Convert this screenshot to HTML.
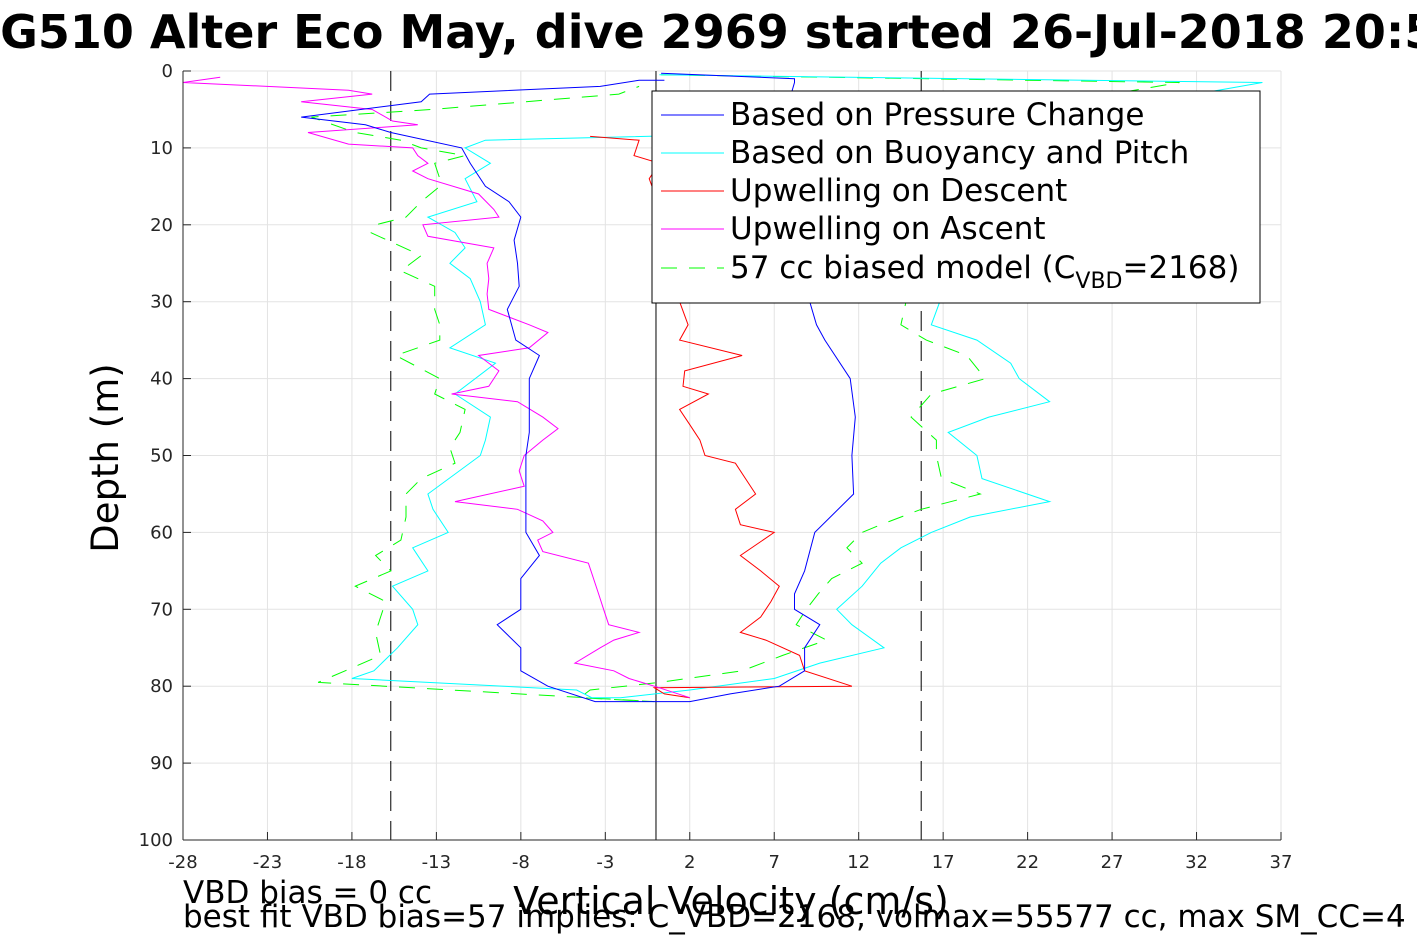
<!DOCTYPE html>
<html><head><meta charset="utf-8"><style>
body{margin:0;background:#fff;width:1417px;height:945px;overflow:hidden;font-family:"DejaVu Sans","Liberation Sans",sans-serif}
</style></head><body>
<svg id="chart" width="1417" height="945" xmlns="http://www.w3.org/2000/svg" font-family="DejaVu Sans, Liberation Sans, sans-serif">
<g id="grid"></g>
<g id="series"></g>
<g id="axes"></g>
<text x="-33" y="48" font-size="46" font-weight="bold">SG510 Alter Eco May, dive 2969 started 26-Jul-2018 20:53</text>
<text transform="translate(118,458) rotate(-90)" text-anchor="middle" font-size="37">Depth (m)</text>
<text x="731" y="914" text-anchor="middle" font-size="38">Vertical Velocity (cm/s)</text>
<text x="183" y="903" font-size="31">VBD bias = 0 cc</text>
<text x="183" y="927" font-size="31">best fit VBD bias=57 implies: C_VBD=2168, volmax=55577 cc, max SM_CC=4</text>
<g>
<rect x="652" y="91" width="608" height="212" fill="#fff" stroke="#000" stroke-width="1"/>
<line x1="661" y1="115" x2="724" y2="115" stroke="#00f"/>
<text x="730" y="125" font-size="31">Based on Pressure Change</text>
<line x1="661" y1="153" x2="724" y2="153" stroke="#0ff"/>
<text x="730" y="163" font-size="31">Based on Buoyancy and Pitch</text>
<line x1="661" y1="191" x2="724" y2="191" stroke="#f00"/>
<text x="730" y="201" font-size="31">Upwelling on Descent</text>
<line x1="661" y1="229" x2="724" y2="229" stroke="#f0f"/>
<text x="730" y="239" font-size="31">Upwelling on Ascent</text>
<line x1="661" y1="268" x2="724" y2="268" stroke="#0f0" stroke-dasharray="16,12"/>
<text x="730" y="278" font-size="31">57 cc biased model (C<tspan font-size="22" dy="10">VBD</tspan><tspan dy="-10">=2168)</tspan></text>
</g>
</svg>
<script>
const xTicks=[-28,-23,-18,-13,-8,-3,2,7,12,17,22,27,32,37];
const yTicks=[0,10,20,30,40,50,60,70,80,90,100];
const blueDepth=[0.3,1,1.5,3,5,10,15,20,25,30,33,35,40,45,50,55,60,65,68,70,72,75,78,80,81,82,82,80,78,75,72,70,66,63,60,55,50,47,43,40,37,35,31,28,25,22,19,17,15,12,10,8,7,6,4,3,2,1.2,1.2];
const blueVel=[0.3,8.2,8.2,8.0,8.2,8.5,8.8,9.0,9.0,9.1,9.5,10,11.5,11.8,11.6,11.7,9.4,8.8,8.2,8.2,9.7,8.8,8.8,7.3,4.4,2.0,-3.6,-6.4,-8,-8,-9.4,-8,-8,-6.9,-7.7,-7.7,-7.7,-7.5,-7.5,-7.5,-6.9,-8.3,-8.8,-8.1,-8.2,-8.4,-8,-8.7,-10.1,-11,-11.5,-15.7,-17.2,-21,-13.9,-13.4,-3.3,-1,0.5];
const cyanDepth=[0.5,1.5,3,8,30,33,35,38,40,43,45,47,50,53,56,58,60,62,64,67,70,72,75,77,79,80.5,81.5,81.5,80.5,79,78,75,72,70,67,65,62,60,57,55,50,48,45,42,38,36,33,30,27,25,23,21,19,17,14,12,10,9,8,7];
const cyanVel=[0.2,35.9,32,28,16.8,16.3,19,21,21.5,23.3,19.7,17.3,19,19.3,23.3,18.6,16.3,14.5,13.3,12.2,10.7,11.6,13.5,9.7,7,2,-2.1,-3.8,-4.7,-18,-16.7,-15.3,-14.1,-14.4,-15.6,-13.5,-14.4,-12.3,-13.2,-13.5,-10.4,-10.1,-9.8,-11.9,-9.5,-12.2,-10.1,-10.4,-11,-12.2,-11.3,-11.9,-13.5,-10.6,-11.3,-9.8,-11.3,-10.1,8.8,20];
const redDepth=[8.5,9,11,12,14,20,30,33,35,37,39,41,42,44,46,48,50,51,53,55,57,59,60,63,65,67,69,71,73,74,76,78,80,80.2,81,81.5];
const redVel=[-3.9,-1,-1.3,0.2,-0.4,0.6,1.4,1.9,1.4,5.1,1.7,1.6,3.1,1.4,2,2.6,2.9,4.7,5.3,5.9,4.7,5,7,5,6.2,7.3,6.8,6.2,5,6.5,8.5,8.8,11.6,-0.1,0.5,2];
const magDepth=[81.5,80,79,78,77,75,74,73,72,70,68,66,64,62.5,61,60,58.5,57,56,54,52,50,48,46.5,45,43,42,41,39,37,36,34,33,31,29,27,25,23,21.5,20,19,18,16,14,13,12,11,10,9.5,8,7,6.5,5,4,3,2.5,1.5,0.8];
const magVel=[2,-0.1,-1.6,-2.5,-4.8,-3.3,-2.5,-1,-2.8,-3.1,-3.4,-3.7,-4,-6.7,-7,-6.1,-6.7,-8.2,-11.9,-7.8,-8.1,-7.8,-6.7,-5.8,-6.7,-8.2,-12.1,-9.9,-9.3,-10.5,-7.5,-6.4,-7.5,-9.9,-10,-9.9,-10,-9.6,-13.5,-13.8,-9.3,-9.6,-10.5,-13.5,-14.4,-13.5,-14.1,-14.4,-18.2,-20.6,-14.1,-15.6,-16.8,-21,-16.8,-18.2,-28,-25.8];
const greenDepth=[0.5,1.5,3,30,33,35,37,40,42,45,48,50,53,55,57,59,60,62,64,66,68,70,72,74,76,78,79.5,80.5,81.5,82,79.5,78,76,73,71,69,67,65,63,61,58,55,53,51,49,47,44,42,40,37,35,33,31,28,26,24,21,20,19,17,15,14,12,11,10,9,8,6,5,3,2];
const greenVel=[0.3,31,27,14.8,14.5,16,18.4,19.5,16.3,15.1,16.6,16.6,16.9,19.2,15.7,13.3,12.2,11.3,12.2,10.4,9.6,8.9,8.3,10.1,7.5,5.1,0.2,-3.9,-4.5,-0.1,-20,-18.4,-16.3,-16.6,-16.3,-16,-17.8,-15.7,-16.6,-15.1,-14.8,-14.8,-13.9,-11.9,-12.2,-11.6,-11.3,-13.1,-12.8,-15.4,-12.8,-12.8,-13.1,-13.1,-15.1,-13.9,-16.9,-16.6,-14.8,-13.9,-12.8,-12.8,-13.1,-11.3,-13.9,-15.1,-17.8,-20.4,-13.3,-2.2,-1];
const X0=183,X1=1281,Y0=71,Y1=840;
const sx=v=>X0+(v+28)/65*(X1-X0);
const sy=d=>Y0+d/100*(Y1-Y0);
const NS="http://www.w3.org/2000/svg";
function mk(tag,attrs,parent){const e=document.createElementNS(NS,tag);for(const k in attrs)e.setAttribute(k,attrs[k]);parent.appendChild(e);return e;}
const grid=document.getElementById('grid'),axes=document.getElementById('axes'),series=document.getElementById('series');
mk('rect',{x:X0,y:Y0,width:X1-X0,height:Y1-Y0,fill:'#fff'},grid);
xTicks.forEach(t=>{const x=sx(t);
 const g=mk('line',{x1:x,y1:Y0,x2:x,y2:Y1,stroke:'#e3e3e3'},grid);
 
 
 mk('line',{x1:x,y1:Y1,x2:x,y2:Y1-8,stroke:'#262626'},axes);
 const tx=mk('text',{x:x,y:Y1+28,'text-anchor':'middle','font-size':18,fill:'#262626'},axes);tx.textContent=t;
 
 });
yTicks.forEach(t=>{const y=sy(t);
 const g=mk('line',{x1:X0,y1:y,x2:X1,y2:y,stroke:'#e3e3e3'},grid);
 
 
 mk('line',{x1:X0,y1:y,x2:X0+8,y2:y,stroke:'#262626'},axes);
 const tx=mk('text',{x:X0-10,y:y+6,'text-anchor':'end','font-size':18,fill:'#262626'},axes);tx.textContent=t;
 
 });
mk('line',{x1:X0,y1:Y0,x2:X0,y2:Y1,stroke:'#262626'},axes);
mk('line',{x1:X0,y1:Y1,x2:X1,y2:Y1,stroke:'#262626'},axes);
[[-15.7,'20,10','bias-left-line'],[15.7,'20,10','bias-right-line'],[0,'','zero-line']].forEach(([v,da,n])=>{
 const l=mk('line',{x1:sx(v),y1:Y0,x2:sx(v),y2:Y1,stroke:'#000','stroke-dasharray':da},series);
 
 });
function line(d,v,color,name,dash){
 const pts=d.map((dd,i)=>sx(v[i]).toFixed(1)+','+sy(dd).toFixed(1)).join(' ');
 const p=mk('polyline',{points:pts,fill:'none',stroke:color,'stroke-width':1,'stroke-dasharray':dash||''},series);
 
 }
line(greenDepth,greenVel,'#0f0','biased-model-line','16,12');
line(cyanDepth,cyanVel,'#0ff','buoyancy-pitch-line');
line(redDepth,redVel,'#f00','upwelling-descent-line');
line(magDepth,magVel,'#f0f','upwelling-ascent-line');
line(blueDepth,blueVel,'#00f','pressure-change-line');
</script>
</body></html>
